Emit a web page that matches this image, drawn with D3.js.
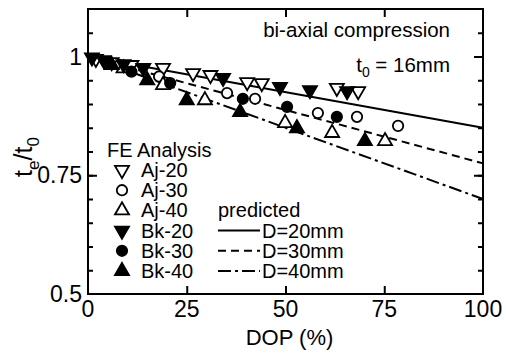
<!DOCTYPE html>
<html>
<head>
<meta charset="utf-8">
<script src="https://cdn.jsdelivr.net/npm/d3@7"></script>
<style>
  body { margin: 0; background: #fff; }
  text { font-family: "Liberation Sans", Arial, sans-serif; fill: #000; }
</style>
</head>
<body>
<script>
var width = 506,
    height = 353;

// FE analysis results: [DOP (%), te/t0]
var aj20 = [[2, 0.995], [6, 0.988], [11, 0.982], [19, 0.976], [26.6, 0.965], [31, 0.961], [40.3, 0.946], [44, 0.944], [63, 0.934], [68.4, 0.927]];
var aj30 = [[8, 0.982], [18, 0.958], [35.2, 0.923], [42.3, 0.911], [58.2, 0.881], [68.1, 0.873], [78.5, 0.854]];
var aj40 = [[9, 0.975], [19, 0.94], [29.6, 0.908], [49.9, 0.86], [61.8, 0.839], [75.2, 0.822]];
var bk20 = [[1, 0.998], [4, 0.992], [9, 0.984], [14, 0.976], [34.2, 0.955], [48.6, 0.936], [56.2, 0.929], [65.6, 0.927]];
var bk30 = [[5, 0.985], [11, 0.968], [20.8, 0.944], [39.2, 0.911], [50.4, 0.894], [63, 0.873]];
var bk40 = [[6, 0.982], [15, 0.95], [25, 0.908], [38.5, 0.883], [52.9, 0.849], [70.1, 0.822]];

// predicted lines
var predDop = [0, 100];
var pred20 = [1.0, 0.85];
var pred30 = [1.0, 0.775];
var pred40 = [1.0, 0.70];

var xTicks = [0, 25, 50, 75, 100];
var yTicks = [0.5, 0.75, 1];

var plotL = 88, plotR = 483, plotT = 9, plotB = 294;

var x = d3.scaleLinear().domain([0, 100]).range([plotL, plotR]);
var y = d3.scaleLinear().domain([0.5, 1.1]).range([plotB, plotT]);

var svg = d3.select('body')
    .append('svg')
    .attr('width', width)
    .attr('height', height);

// frame
svg.append('rect')
    .attr('x', plotL)
    .attr('y', plotT)
    .attr('width', plotR - plotL)
    .attr('height', plotB - plotT)
    .attr('fill', 'none')
    .attr('stroke', '#000')
    .attr('stroke-width', 2);

function noDomain(g) { g.select('.domain').remove(); }

// y ticks (inward, both sides)
var yMinor = d3.range(0.55, 1.09, 0.05);
svg.append('g')
    .attr('transform', 'translate(' + plotL + ',0)')
    .call(d3.axisRight(y).tickValues(yMinor).tickSize(5).tickFormat(''))
    .call(noDomain);
svg.append('g')
    .attr('transform', 'translate(' + plotR + ',0)')
    .call(d3.axisLeft(y).tickValues(yMinor).tickSize(5).tickFormat(''))
    .call(noDomain);
svg.append('g')
    .attr('transform', 'translate(' + plotL + ',0)')
    .call(d3.axisRight(y).tickValues([0.75, 1]).tickSize(9).tickFormat(''))
    .call(noDomain);
svg.append('g')
    .attr('transform', 'translate(' + plotR + ',0)')
    .call(d3.axisLeft(y).tickValues([0.75, 1]).tickSize(9).tickFormat(''))
    .call(noDomain);

// x ticks (inward, both sides)
svg.append('g')
    .attr('transform', 'translate(0,' + plotB + ')')
    .call(d3.axisTop(x).tickValues([25, 50, 75]).tickSize(8).tickFormat(''))
    .call(noDomain);
svg.append('g')
    .attr('transform', 'translate(0,' + plotT + ')')
    .call(d3.axisBottom(x).tickValues([25, 50, 75]).tickSize(8).tickFormat(''))
    .call(noDomain);

svg.selectAll('.tick line').attr('stroke', '#000').attr('stroke-width', 2);

// tick labels
svg.selectAll('.xlab')
    .data(xTicks)
    .enter()
    .append('text')
    .attr('class', 'xlab')
    .attr('x', function (d) { return x(d); })
    .attr('y', plotB + 23)
    .attr('text-anchor', 'middle')
    .attr('font-size', 23)
    .text(function (d) { return d; });

svg.selectAll('.ylab')
    .data(yTicks)
    .enter()
    .append('text')
    .attr('class', 'ylab')
    .attr('x', plotL - 6)
    .attr('y', function (d) { return y(d) + 8; })
    .attr('text-anchor', 'end')
    .attr('font-size', 23)
    .text(function (d) { return d; });

// axis titles
svg.append('text')
    .attr('x', (plotL + plotR) / 2 + 4)
    .attr('y', 345)
    .attr('text-anchor', 'middle')
    .attr('font-size', 22)
    .text('DOP (%)');

var yt = svg.append('text')
    .attr('transform', 'translate(32,157) rotate(-90)')
    .attr('text-anchor', 'middle')
    .attr('font-size', 25);
yt.append('tspan').text('t');
yt.append('tspan').attr('font-size', 17).attr('dy', 7).text('e');
yt.append('tspan').attr('dy', -7).text('/t');
yt.append('tspan').attr('font-size', 17).attr('dy', 7).text('0');

// annotations
svg.append('text')
    .attr('x', 450)
    .attr('y', 37)
    .attr('text-anchor', 'end')
    .attr('font-size', 20.5)
    .text('bi-axial compression');

var t0 = svg.append('text')
    .attr('x', 450)
    .attr('y', 72)
    .attr('text-anchor', 'end')
    .attr('font-size', 20.5);
t0.append('tspan').text('t');
t0.append('tspan').attr('font-size', 14).attr('dy', 5).text('0');
t0.append('tspan').attr('dy', -5).text(' = 16mm');

// predicted lines
var lines = [
    {vals: pred20, dash: null},
    {vals: pred30, dash: '8,5'},
    {vals: pred40, dash: '13,4,3,4'}
];
var line = d3.line()
    .x(function (d) { return x(d[0]); })
    .y(function (d) { return y(d[1]); });

svg.selectAll('.pred')
    .data(lines)
    .enter()
    .append('path')
    .attr('class', 'pred')
    .attr('d', function (d) { return line(predDop.map(function (v, i) { return [v, d.vals[i]]; })); })
    .attr('fill', 'none')
    .attr('stroke', '#000')
    .attr('stroke-width', 2)
    .attr('stroke-dasharray', function (d) { return d.dash; });

// markers
var series = [
    {name: 'Aj-20', data: aj20, shape: d3.symbolTriangle, rot: 180, filled: false},
    {name: 'Aj-30', data: aj30, shape: d3.symbolCircle, rot: 0, filled: false},
    {name: 'Aj-40', data: aj40, shape: d3.symbolTriangle, rot: 0, filled: false},
    {name: 'Bk-20', data: bk20, shape: d3.symbolTriangle, rot: 180, filled: true},
    {name: 'Bk-30', data: bk30, shape: d3.symbolCircle, rot: 0, filled: true},
    {name: 'Bk-40', data: bk40, shape: d3.symbolTriangle, rot: 0, filled: true}
];

function symbolPath(s) {
    return d3.symbol().type(s.shape).size(s.shape === d3.symbolCircle ? 85 : 85)();
}

series.forEach(function (s) {
    svg.append('g')
        .selectAll('path')
        .data(s.data)
        .enter()
        .append('path')
        .attr('d', symbolPath(s))
        .attr('transform', function (d) {
            return 'translate(' + x(d[0]) + ',' + y(d[1]) + ') rotate(' + s.rot + ')';
        })
        .attr('fill', s.filled ? '#000' : '#fff')
        .attr('stroke', '#000')
        .attr('stroke-width', 1.8);
});

// legend: FE analysis
svg.append('text')
    .attr('x', 107)
    .attr('y', 157)
    .attr('font-size', 20)
    .text('FE Analysis');

var rowY = d3.scaleLinear().domain([0, 5]).range([177, 278]);

var leg = svg.selectAll('.leg')
    .data(series)
    .enter()
    .append('g')
    .attr('class', 'leg');

leg.append('path')
    .attr('d', symbolPath)
    .attr('transform', function (d, i) {
        return 'translate(122,' + (rowY(i) - 7) + ') rotate(' + d.rot + ')';
    })
    .attr('fill', function (d) { return d.filled ? '#000' : '#fff'; })
    .attr('stroke', '#000')
    .attr('stroke-width', 1.8);

leg.append('text')
    .attr('x', 141)
    .attr('y', function (d, i) { return rowY(i); })
    .attr('font-size', 20)
    .text(function (d) { return d.name; });

// legend: predicted
svg.append('text')
    .attr('x', 218)
    .attr('y', rowY(2))
    .attr('font-size', 20)
    .text('predicted');

var predNames = ['D=20mm', 'D=30mm', 'D=40mm'];
var pl = svg.selectAll('.pleg')
    .data(lines)
    .enter()
    .append('g')
    .attr('class', 'pleg');

pl.append('line')
    .attr('x1', 218)
    .attr('x2', 260)
    .attr('y1', function (d, i) { return rowY(i + 3) - 7; })
    .attr('y2', function (d, i) { return rowY(i + 3) - 7; })
    .attr('stroke', '#000')
    .attr('stroke-width', 2)
    .attr('stroke-dasharray', function (d) { return d.dash; });

pl.append('text')
    .attr('x', 262)
    .attr('y', function (d, i) { return rowY(i + 3); })
    .attr('font-size', 20)
    .text(function (d, i) { return predNames[i]; });
</script>
</body>
</html>
